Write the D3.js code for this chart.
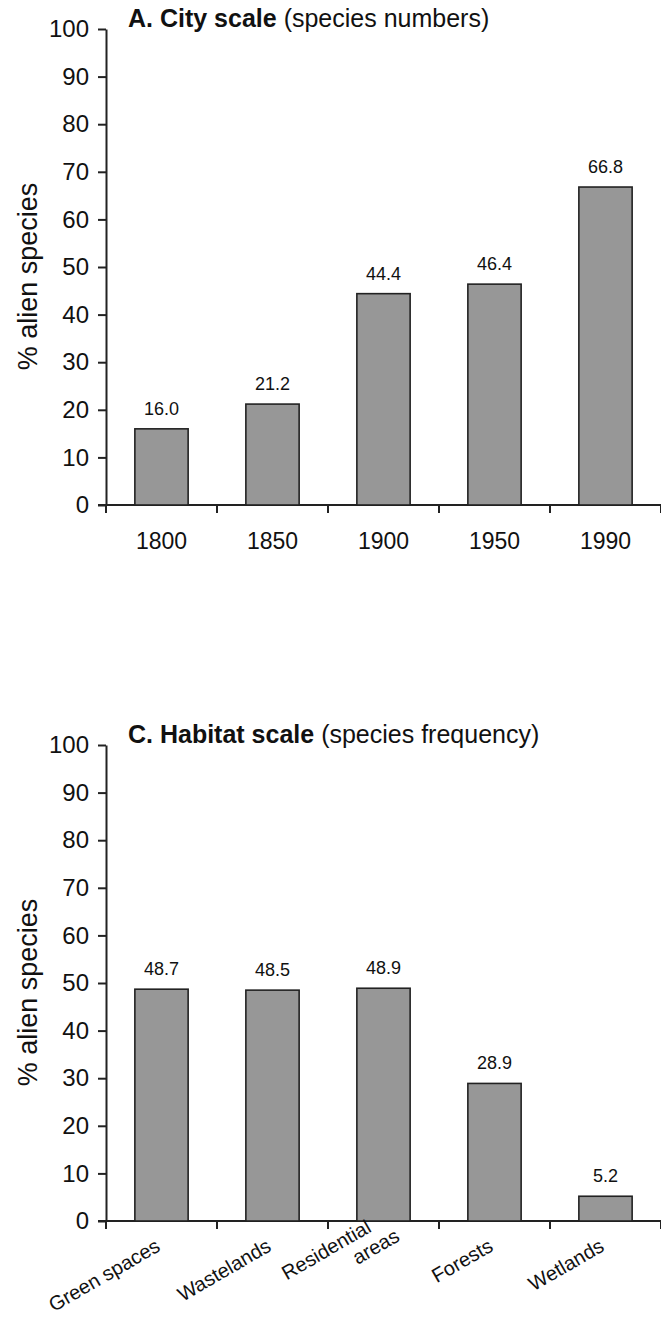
<!DOCTYPE html>
<html>
<head>
<meta charset="utf-8">
<script src="https://cdn.jsdelivr.net/npm/d3@7"></script>
<style>
  body { margin: 0; background: #fff; }
  svg { display: block; font-family: "Liberation Sans", Arial, sans-serif; }
</style>
</head>
<body>
<svg></svg>
<script>
var width = 661;
var height = 1318;

// panel A data
var cityYears = ['1800', '1850', '1900', '1950', '1990'];
var cityValues = [16.0, 21.2, 44.4, 46.4, 66.8];

// panel C data
var habitats = ['Green spaces', 'Wastelands', 'Residential areas', 'Forests', 'Wetlands'];
var habitatLines = [['Green spaces'], ['Wastelands'], ['Residential', 'areas'], ['Forests'], ['Wetlands']];
var habitatValues = [48.7, 48.5, 48.9, 28.9, 5.2];

var yTicks = [0, 10, 20, 30, 40, 50, 60, 70, 80, 90, 100];

var svg = d3.select('svg')
            .attr('width', width)
            .attr('height', height);

function drawPanel(top, titleBold, titleRest, cats, vals, rotated) {
  var g = svg.append('g');

  var y = d3.scaleLinear()
            .domain([0, 100])
            .range([top + 476, top]);

  var x = d3.scaleBand()
            .domain(cats)
            .range([106, 661])
            .paddingInner(0.52)
            .paddingOuter(0.26);

  // y axis
  var yAxis = d3.axisLeft(y)
                .tickValues(yTicks)
                .tickSize(8)
                .tickPadding(9)
                .tickSizeOuter(0);
  var ya = g.append('g')
            .attr('transform', 'translate(106,0)')
            .call(yAxis);
  ya.select('.domain').attr('stroke', '#222').attr('stroke-width', 2);
  ya.selectAll('.tick line').attr('stroke', '#222').attr('stroke-width', 2);
  ya.selectAll('.tick text')
    .attr('fill', '#111')
    .style('font-size', '24px');

  // x axis line with separator ticks
  var base = y(0);
  g.append('line')
   .attr('x1', 98).attr('x2', 661)
   .attr('y1', base).attr('y2', base)
   .attr('stroke', '#222').attr('stroke-width', 2);

  var step = x.step();
  var seps = d3.range(cats.length + 1).map(function(i) { return 106 + i * step; });
  g.selectAll('.sep')
   .data(seps)
   .enter()
   .append('line')
   .attr('x1', d => d).attr('x2', d => d)
   .attr('y1', base).attr('y2', base + 8)
   .attr('stroke', '#222').attr('stroke-width', 2);

  // bars
  g.selectAll('.bar')
   .data(vals)
   .enter()
   .append('rect')
   .attr('x', (d, i) => x(cats[i]))
   .attr('y', d => y(d))
   .attr('width', x.bandwidth())
   .attr('height', d => base - y(d))
   .attr('fill', '#979797')
   .attr('stroke', '#222')
   .attr('stroke-width', 1.6);

  // value labels
  g.selectAll('.val')
   .data(vals)
   .enter()
   .append('text')
   .attr('x', (d, i) => x(cats[i]) + x.bandwidth() / 2)
   .attr('y', d => y(d) - 14)
   .attr('text-anchor', 'middle')
   .attr('fill', '#111')
   .style('font-size', '18px')
   .text(d => d.toFixed(1));

  // category labels
  if (!rotated) {
    g.selectAll('.cat')
     .data(cats)
     .enter()
     .append('text')
     .attr('x', d => x(d) + x.bandwidth() / 2)
     .attr('y', base + 44)
     .attr('text-anchor', 'middle')
     .attr('fill', '#111')
     .style('font-size', '23px')
     .text(d => d);
  } else {
    cats.forEach(function(c, i) {
      var cx = x(c) + x.bandwidth() / 2;
      var t = g.append('text')
               .attr('transform', 'translate(' + cx + ',' + (base + 29) + ') rotate(-30)')
               .attr('text-anchor', 'end')
               .attr('fill', '#111')
               .style('font-size', '20px');
      var lines = habitatLines[i];
      lines.forEach(function(l, j) {
        t.append('tspan')
         .attr('x', j == 0 ? 0 : 20)
         .attr('dy', j == 0 ? (-(lines.length - 1) * 22) : 22)
         .text(l);
      });
    });
  }

  // y label
  g.append('text')
   .attr('transform', 'translate(37,' + y(48) + ') rotate(-90)')
   .attr('text-anchor', 'middle')
   .attr('fill', '#111')
   .style('font-size', '27px')
   .text('% alien species');

  // title
  var title = g.append('text')
               .attr('x', 128)
               .attr('y', top - 2)
               .attr('fill', '#111')
               .style('font-size', '25px');
  title.append('tspan').attr('font-weight', 'bold').text(titleBold);
  title.append('tspan').text(' ' + titleRest);
}

drawPanel(29, 'A. City scale', '(species numbers)', cityYears, cityValues, false);
drawPanel(745, 'C. Habitat scale', '(species frequency)', habitats, habitatValues, true);
</script>
</body>
</html>
